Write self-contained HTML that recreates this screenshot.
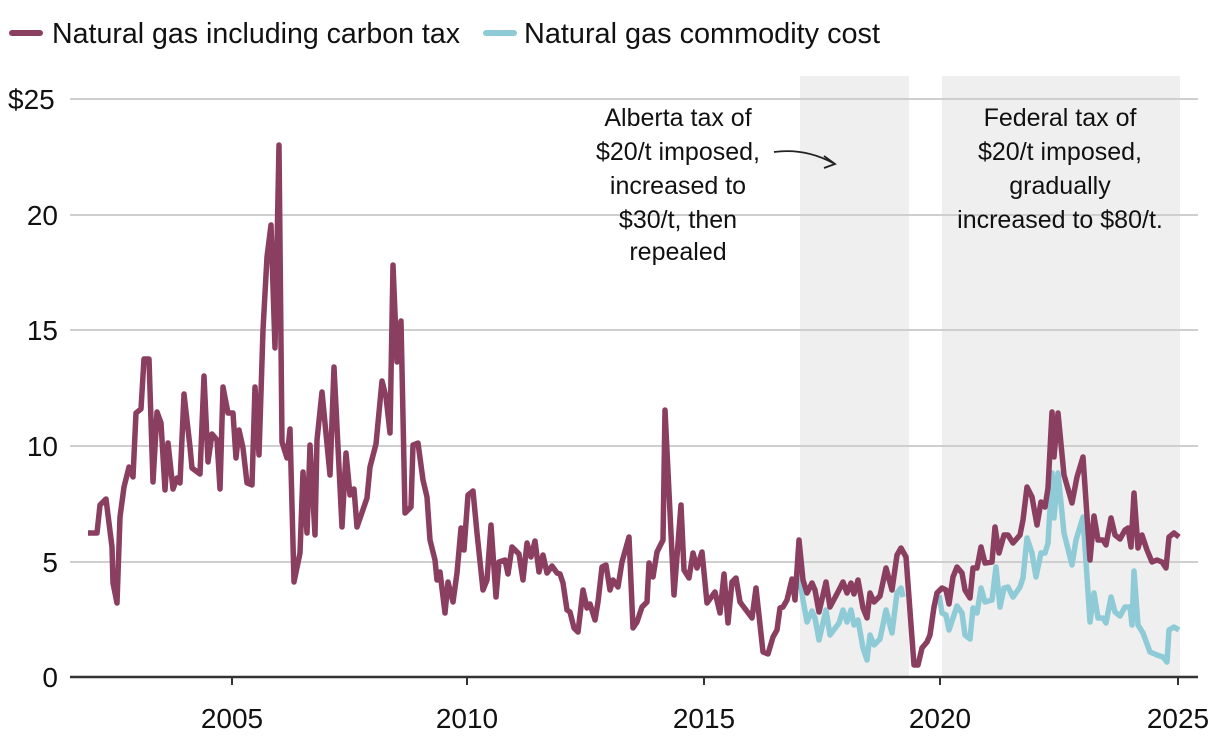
<!DOCTYPE html>
<html><head><meta charset="utf-8"><style>
body{margin:0;background:#fff;}
svg text{font-family:"Liberation Sans Narrow","Liberation Sans",sans-serif;fill:#111;}
</style></head><body>
<svg width="1220" height="744" viewBox="0 0 1220 744" xmlns="http://www.w3.org/2000/svg">
<rect x="800" y="76" width="109" height="601" fill="#efefef"/>
<rect x="942" y="76" width="238" height="601" fill="#efefef"/>
<g stroke="#cfcfcf" stroke-width="2">
<line x1="70" x2="1198" y1="99" y2="99"/>
<line x1="70" x2="1198" y1="215" y2="215"/>
<line x1="70" x2="1198" y1="330" y2="330"/>
<line x1="70" x2="1198" y1="446" y2="446"/>
<line x1="70" x2="1198" y1="562" y2="562"/>
</g>
<line x1="70" x2="1198" y1="677" y2="677" stroke="#333" stroke-width="2.5"/>
<g stroke="#333" stroke-width="2">
<line x1="232" x2="232" y1="677" y2="685"/><line x1="467" x2="467" y1="677" y2="685"/>
<line x1="704" x2="704" y1="677" y2="685"/><line x1="940" x2="940" y1="677" y2="685"/>
<line x1="1178" x2="1178" y1="677" y2="685"/>
</g>
<g font-size="28" text-anchor="middle">
<text x="232" y="728">2005</text><text x="467" y="728">2010</text><text x="704" y="728">2015</text><text x="940" y="728">2020</text><text x="1178" y="728">2025</text>
</g>
<g font-size="28">
<text x="8" y="109">$25</text>
<text x="58" y="225" text-anchor="end">20</text>
<text x="58" y="340" text-anchor="end">15</text>
<text x="58" y="456" text-anchor="end">10</text>
<text x="58" y="572" text-anchor="end">5</text>
<text x="58" y="687" text-anchor="end">0</text>
</g>
<polyline fill="none" stroke="#8fcbd6" stroke-width="5.5" stroke-linejoin="round" points="799,573 803,600 807,622 812,611 815,618 819,640 826,610 830,635 839,623 843,610 847,622 851,610 854,625 858,620 863,648 867,660 870,635 874,645 880,639 886,610 892,633 897,593 901,588 903,597"/>
<polyline fill="none" stroke="#8fcbd6" stroke-width="5.5" stroke-linejoin="round" points="939,595 942,613 946,615 949,630 957,606 962,613 965,635 970,639 973,608 977,613 981,588 985,602 992,600 996,567 1000,607 1004,588 1008,587 1013,597 1020,587 1023,578 1027,538 1032,553 1036,577 1041,553 1045,553 1048,543 1052,473 1054,518 1058,473 1064,533 1072,565 1076,540 1083,517 1090,622 1094,593 1098,618 1103,618 1106,623 1111,597 1115,612 1120,616 1125,607 1130,607 1132,625 1134,571 1138,625 1143,633 1150,652 1157,655 1163,657 1167,662 1169,630 1174,627 1179,630"/>
<polyline fill="none" stroke="#8b3f60" stroke-width="5.5" stroke-linejoin="round" points="88,533 97,533 100,505 106,499 112,547 113,583 117,603 120,517 124,487 129,467 133,477 136,413 141,409 144,359 149,359 153,482 157,412 161,423 165,490 168,443 173,489 177,478 180,483 184,394 190,447 192,468 200,474 204,376 208,462 212,434 217,440 220,489 223,387 228,413 233,413 236,458 239,430 243,448 247,483 252,485 255,387 259,455 263,330 267,257 271,225 275,348 279,145 282,442 287,458 290,429 294,582 300,553 303,472 307,533 310,445 315,535 317,440 322,392 330,475 334,367 342,527 346,453 350,495 354,489 357,527 367,498 370,467 376,444 382,381 386,397 390,433 393,265 397,362 401,321 405,513 411,507 413,445 418,443 423,480 427,497 430,540 435,560 437,580 440,572 445,613 448,582 453,602 457,573 461,528 464,550 468,495 473,491 477,533 483,590 487,580 491,525 496,597 499,562 505,560 508,574 512,547 519,554 523,580 527,543 531,557 535,541 539,572 543,555 547,573 552,566 557,573 560,574 563,583 567,610 570,612 574,628 578,632 583,590 587,608 590,604 595,620 598,602 602,567 606,565 610,590 613,580 618,587 622,562 629,537 633,628 637,622 642,607 647,602 649,563 653,577 657,552 663,540 665,410 674,595 681,505 684,570 689,578 693,553 697,568 702,552 707,603 715,592 720,613 724,574 728,623 732,582 736,578 740,602 752,618 756,588 763,652 768,654 773,637 777,630 780,608 783,607 787,600 792,579 795,600 799,540 803,580 807,593 812,583 815,590 819,612 826,582 830,607 839,590 843,582 847,593 851,583 854,594 858,580 863,608 867,618 870,593 874,602 880,596 886,568 892,590 897,555 901,548 906,557 914,665 918,665 922,648 927,642 930,635 934,607 937,593 942,588 946,590 949,604 953,577 957,567 962,573 965,590 970,598 973,568 977,568 981,547 985,563 992,562 995,527 999,553 1004,535 1008,535 1013,543 1020,535 1023,520 1027,487 1032,497 1037,525 1041,502 1045,507 1048,488 1052,412 1054,457 1058,413 1064,475 1072,503 1077,477 1083,457 1090,560 1094,516 1098,540 1103,540 1106,545 1111,518 1115,535 1120,539 1125,530 1128,528 1131,547 1134,493 1138,548 1142,535 1147,550 1152,562 1157,560 1162,562 1166,568 1169,537 1174,533 1179,537"/>
<line x1="12" x2="40" y1="33" y2="33" stroke="#8b3f60" stroke-width="6" stroke-linecap="round"/>
<text x="52" y="43" font-size="28.5" textLength="408" lengthAdjust="spacingAndGlyphs">Natural gas including carbon tax</text>
<line x1="486" x2="514" y1="33" y2="33" stroke="#8fcbd6" stroke-width="6" stroke-linecap="round"/>
<text x="524" y="43" font-size="28.5" textLength="356" lengthAdjust="spacingAndGlyphs">Natural gas commodity cost</text>
<g font-size="25" text-anchor="middle">
<text x="678" y="126">Alberta tax of</text>
<text x="678" y="160">$20/t imposed,</text>
<text x="678" y="194">increased to</text>
<text x="678" y="228">$30/t, then</text>
<text x="678" y="260">repealed</text>
<text x="1060" y="126">Federal tax of</text>
<text x="1060" y="160">$20/t imposed,</text>
<text x="1060" y="194">gradually</text>
<text x="1060" y="228">increased to $80/t.</text>
</g>
<path d="M774,152 Q805,148 833,163" fill="none" stroke="#222" stroke-width="1.8"/>
<path d="M824,156 L835,164 L824,168" fill="none" stroke="#222" stroke-width="1.8"/>
</svg>
</body></html>
